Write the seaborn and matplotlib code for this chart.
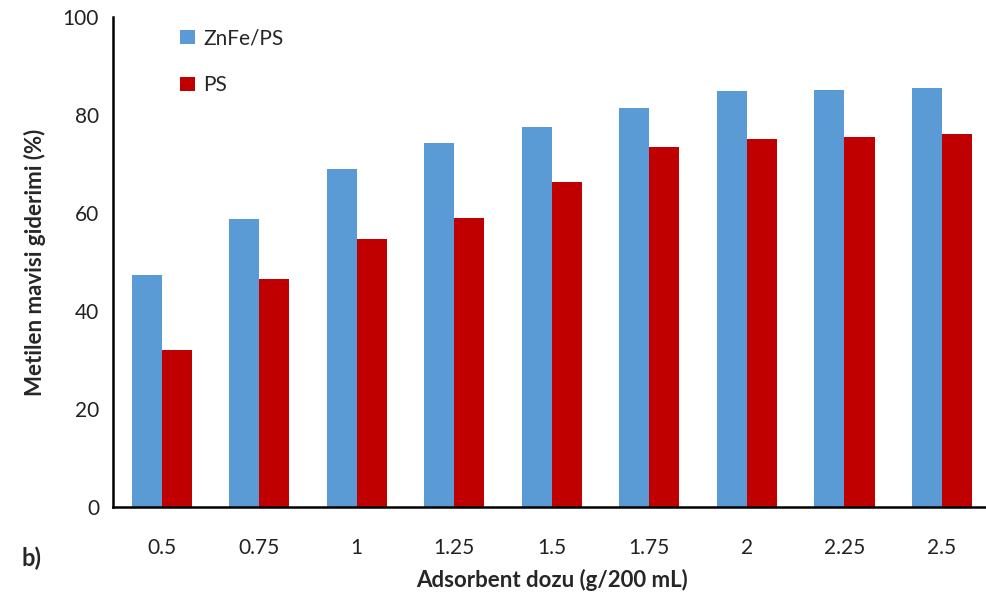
import pandas as pd
import matplotlib.pyplot as plt
import seaborn as sns

doses = ["0.5", "0.75", "1", "1.25", "1.5", "1.75", "2", "2.25", "2.5"]
znfe_ps = [47.3, 58.8, 69.0, 74.3, 77.5, 81.4, 84.8, 85.2, 85.6]
ps_only = [32.0, 46.5, 54.6, 59.0, 66.3, 73.5, 75.0, 75.6, 76.1]
series_names = ["ZnFe/PS", "PS"]
y_ticks = [0, 20, 40, 60, 80, 100]

df = pd.DataFrame({
    "dose": doses * 2,
    "value": znfe_ps + ps_only,
    "series": [series_names[0]] * len(doses) + [series_names[1]] * len(doses),
})

sns.set_style("white")
plt.rcParams["font.family"] = ["Lato", "DejaVu Sans"]

fig = plt.figure(figsize=(9.86, 5.96), dpi=100)
ax = fig.add_axes([0.1146, 0.1493, 0.890, 0.8222])

sns.barplot(data=df, x="dose", y="value", hue="series", order=doses,
            hue_order=series_names, palette=["#5B9BD5", "#C00000"],
            width=0.62, gap=0, saturation=1, errorbar=None, linewidth=0,
            ax=ax)

ax.set_ylim(0, 100)
ax.set_yticks(y_ticks)
ax.tick_params(axis="both", length=0, labelsize=15, colors="#222222", pad=10)
ax.tick_params(axis="x", pad=22)
for s in ["top", "right"]:
    ax.spines[s].set_visible(False)
for s in ["left", "bottom"]:
    ax.spines[s].set_color("black")
    ax.spines[s].set_linewidth(1.8)

ax.set_xlabel("Adsorbent dozu (g/200 mL)", fontsize=16, fontweight="bold", labelpad=8)
ax.set_ylabel("Metilen mavisi giderimi (%)", fontsize=16, fontweight="bold", labelpad=12)

ax.legend(loc="upper left", bbox_to_anchor=(0.055, 1.015), frameon=False,
          fontsize=15, handlelength=0.7, handleheight=0.7, handletextpad=0.4,
          labelspacing=1.3)

fig.text(0.022, 0.05, "b)", fontsize=17, fontweight="bold")

fig.savefig("out.png", dpi=100)
